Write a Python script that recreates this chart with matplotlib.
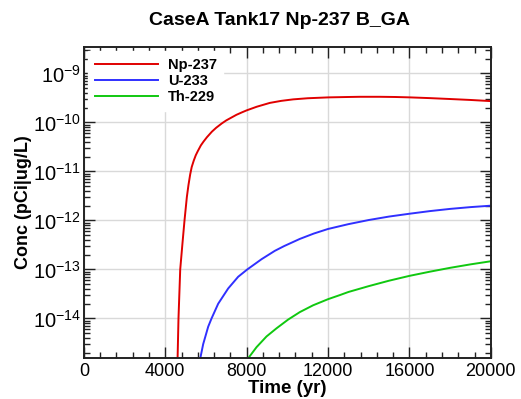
import matplotlib
matplotlib.use("Agg")
import matplotlib.pyplot as plt
from matplotlib.ticker import MultipleLocator, LogLocator, NullFormatter, LogFormatterSciNotation

plt.rcParams['font.family'] = ['Liberation Sans', 'DejaVu Sans']
plt.rcParams['mathtext.fontset'] = 'custom'
plt.rcParams['mathtext.rm'] = 'Liberation Sans'
plt.rcParams['mathtext.default'] = 'regular'

title = "CaseA Tank17 Np-237 B_GA"
series_names = ["Np-237", "U-233", "Th-229"]

np237_t = [4600, 4650, 4735, 4848, 4946, 5061, 5140, 5225, 5300, 5400, 5500, 5600, 5750, 5882,
           6050, 6290, 6500, 6781, 7000, 7273, 7500, 7764, 8000, 8500, 9140, 9700, 10285,
           11000, 12024, 13000, 13560, 14545, 15300, 16020, 17000, 18000, 19000, 20000]
np237_c = [1.2e-15, 1e-14, 1e-13, 3.5e-13, 1e-12, 3.0e-12, 5.25e-12, 8.7e-12, 1.23e-11,
           1.66e-11, 2.14e-11, 2.6e-11, 3.4e-11, 4.07e-11, 5.0e-11, 6.46e-11, 7.76e-11, 9.55e-11,
           1.1e-10, 1.27e-10, 1.43e-10, 1.6e-10, 1.76e-10, 2.09e-10, 2.5e-10, 2.75e-10,
           2.95e-10, 3.11e-10, 3.24e-10, 3.3e-10, 3.33e-10, 3.33e-10, 3.3e-10, 3.24e-10,
           3.13e-10, 3.0e-10, 2.87e-10, 2.72e-10]

u233_t = [5700, 5864, 6110, 6274, 6601, 7093, 7584, 8030, 8733, 9386, 9843, 10615, 11300,
          12000, 13000, 14000, 15000, 16000, 17000, 18000, 19000, 20000]
u233_c = [1.4e-15, 3.0e-15, 6.8e-15, 1e-14, 2.0e-14, 4.1e-14, 7.1e-14, 1e-13, 1.62e-13,
          2.4e-13, 3.0e-13, 4.2e-13, 5.4e-13, 6.7e-13, 8.4e-13, 1.02e-12, 1.2e-12, 1.37e-12,
          1.55e-12, 1.72e-12, 1.87e-12, 2.0e-12]

th229_t = [8000, 8486, 8977, 9468, 10039, 10614, 11268, 12005, 12580, 13000, 14000, 15000,
           16000, 17000, 18000, 19000, 20000]
th229_c = [1.4e-15, 2.6e-15, 4.3e-15, 6.3e-15, 9.5e-15, 1.35e-14, 1.86e-14, 2.48e-14, 3.0e-14,
           3.47e-14, 4.57e-14, 5.9e-14, 7.4e-14, 9.0e-14, 1.08e-13, 1.27e-13, 1.47e-13]

x_ticks = [0, 4000, 8000, 12000, 16000, 20000]
y_ticks = [1e-14, 1e-13, 1e-12, 1e-11, 1e-10, 1e-9]
colors = ['#e00000', '#3030ff', '#10c810']

fig = plt.figure(figsize=(5.21, 3.99), dpi=100)
ax = fig.add_axes([0.161, 0.103, 0.781, 0.779])

for t, c, name, col in zip([np237_t, u233_t, th229_t], [np237_c, u233_c, th229_c],
                           series_names, colors):
    ax.plot(t, c, color=col, lw=1.4, label=name)

ax.set_yscale('log')
ax.set_xlim(0, 20000)
ax.set_ylim(1.57e-15, 3.44e-9)
ax.set_xticks(x_ticks)
ax.xaxis.set_minor_locator(MultipleLocator(800))
ax.set_yticks(y_ticks)
ax.yaxis.set_major_formatter(LogFormatterSciNotation())
ax.yaxis.set_minor_locator(LogLocator(base=10, subs=range(2, 10), numticks=20))
ax.yaxis.set_minor_formatter(NullFormatter())

ax.grid(True, which='major', color='#d9d9d9', lw=1.0)
ax.set_axisbelow(True)
ax.tick_params(which='both', direction='in', top=True, right=True, colors='#222222',
               labelcolor='black')
ax.tick_params(axis='x', labelsize=13)
ax.tick_params(axis='y', labelsize=14.5, pad=2)
ax.tick_params(which='major', length=8, width=1.0)
ax.tick_params(which='minor', length=4, width=1.0)
for s in ax.spines.values():
    s.set_linewidth(1.4)
    s.set_color('#222222')

ax.set_xlabel("Time (yr)", fontsize=13.5, fontweight='bold', labelpad=0)
ax.set_ylabel("Conc (pCi|ug/L)", fontsize=13, fontweight='bold', labelpad=1)
fig.text(0.537, 0.949, title, ha='center', va='center', fontsize=14, fontweight='bold')

leg = ax.legend(loc='upper left', frameon=True, fancybox=False, edgecolor='white',
                facecolor='white', framealpha=1.0, handlelength=4.3, handletextpad=0.7,
                labelspacing=0.15, borderaxespad=0.3, borderpad=0.45,
                prop={'weight': 'bold', 'size': 10.5})

fig.savefig("out.png", dpi=100)
